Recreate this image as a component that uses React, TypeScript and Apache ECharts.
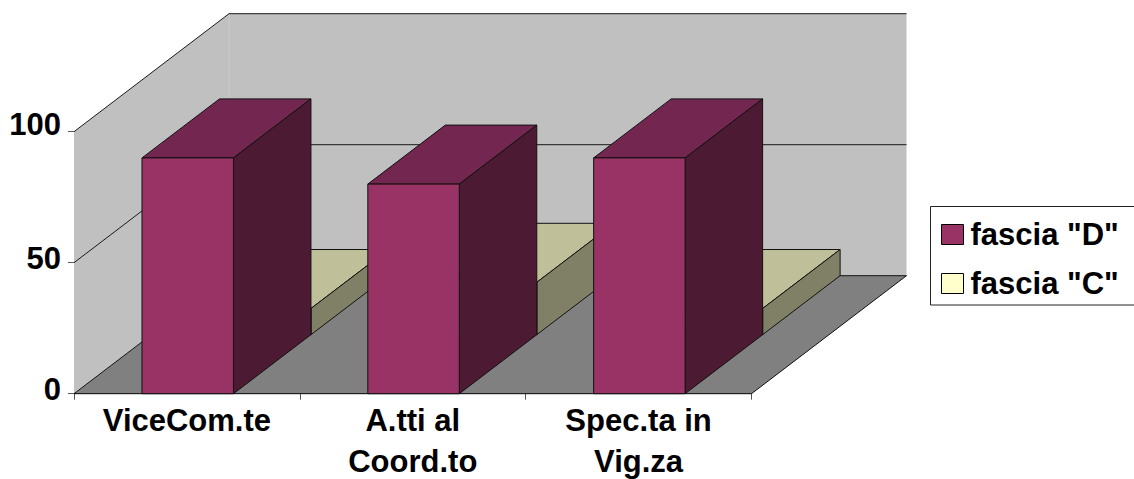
import React, { useEffect, useRef } from "react";
import * as echarts from "echarts";

const categories = ["ViceCom.te", "A.tti al\nCoord.to", "Spec.ta in\nVig.za"];
const fasciaD = [90, 80, 90];
const fasciaC = [10, 20, 10];
const yTicks = [0, 50, 100];
const seriesNames = ['fascia "D"', 'fascia "C"'];

const FONT = '"Liberation Sans", Arial, sans-serif';
const DEPTH_X = 155;
const DEPTH_Y = -118;
const BAR_FRACTION = 0.405;

function shift(p: number[], k: number) {
  return [p[0] + DEPTH_X * k, p[1] + DEPTH_Y * k];
}

function box(api: any, from: number, to: number, front: string, top: string, side: string, stroke: string) {
  const i = api.value(0);
  const hi = api.coord([i, api.value(1)]);
  const lo = api.coord([i, 0]);
  const w = api.size([1, 0])[0] * BAR_FRACTION;
  const xl = hi[0] - w / 2 + 0.8;
  const xr = hi[0] + w / 2 + 0.8;
  const fbl = shift([xl, lo[1]], from);
  const fbr = shift([xr, lo[1]], from);
  const ftl = shift([xl, hi[1]], from);
  const ftr = shift([xr, hi[1]], from);
  const bbr = shift([xr, lo[1]], to);
  const btl = shift([xl, hi[1]], to);
  const btr = shift([xr, hi[1]], to);
  const style = (fill: string) => ({ fill, stroke, lineWidth: 1 });
  return {
    type: "group",
    children: [
      { type: "polygon", shape: { points: [ftl, btl, btr, ftr] }, style: style(top) },
      { type: "polygon", shape: { points: [fbr, ftr, btr, bbr] }, style: style(side) },
      { type: "polygon", shape: { points: [fbl, ftl, ftr, fbr] }, style: style(front) },
    ],
  };
}

function renderWalls(params: any, api: any) {
  if (params.dataIndex !== 0) return { type: "group", children: [] };
  const cs = params.coordSys;
  const x0 = cs.x;
  const x1 = cs.x + cs.width;
  const yAt = (v: number) => api.coord([0, v])[1];
  const f0 = [x0, yAt(0)];
  const f1 = [x1, yAt(0)];
  const top = [x0, yAt(yTicks[yTicks.length - 1])];
  const children: any[] = [
    {
      type: "polygon",
      shape: { points: [top, shift(top, 1), shift(f0, 1), f0] },
      style: { fill: "#C0C0C0", stroke: "none" },
    },
    {
      type: "polygon",
      shape: { points: [shift(top, 1), [x1 + DEPTH_X, top[1] + DEPTH_Y], shift(f1, 1), shift(f0, 1)] },
      style: { fill: "#C0C0C0", stroke: "none" },
    },
    {
      type: "line",
      shape: { x1: x0 + DEPTH_X, y1: top[1] + DEPTH_Y, x2: x0 + DEPTH_X, y2: f0[1] + DEPTH_Y },
      style: { stroke: "#CACACA", lineWidth: 1 },
    },
    {
      type: "polygon",
      shape: { points: [f0, shift(f0, 1), shift(f1, 1), f1] },
      style: { fill: "#808080", stroke: "#111111", lineWidth: 1 },
    },
  ];
  yTicks.slice(1).forEach((v) => {
    const a = [x0, yAt(v)];
    const b = [x1, yAt(v)];
    children.push({
      type: "polyline",
      shape: { points: [a, shift(a, 1), shift(b, 1)] },
      style: { fill: "none", stroke: "#1a1a1a", lineWidth: 1 },
    });
  });
  return { type: "group", children };
}

const labelBase = { fontFamily: FONT, fontSize: 31, fontWeight: "bold" as const, color: "#000000" };

export default function App() {
  const ref = useRef<HTMLDivElement>(null);
  useEffect(() => {
    document.body.style.margin = "0";
    const chart = echarts.init(ref.current!, undefined, { renderer: "svg" });
    chart.setOption({
      animation: false,
      backgroundColor: "#FFFFFF",
      textStyle: { fontFamily: FONT },
      grid: { left: 74, top: 131.7, width: 677.5, height: 262, outerBoundsMode: "none" },
      xAxis: {
        type: "category",
        data: categories,
        boundaryGap: true,
        axisLine: { show: true, lineStyle: { color: "#111111", width: 1 } },
        axisTick: { show: true, length: 6, lineStyle: { color: "#555555", width: 1 } },
        axisLabel: { ...labelBase, lineHeight: 41, margin: 6, interval: 0 },
      },
      yAxis: {
        type: "value",
        min: 0,
        max: 100,
        interval: 50,
        splitLine: { show: false },
        axisLine: { show: true, lineStyle: { color: "#555555", width: 1 } },
        axisTick: { show: true, length: 6, lineStyle: { color: "#555555", width: 1 } },
        axisLabel: {
          ...labelBase,
          margin: 13,
          verticalAlign: "bottom",
          formatter: (v: number) => (v === 100 ? `{a|${v}}` : `{b|${v}}`),
          rich: {
            a: { ...labelBase, lineHeight: 14 },
            b: { ...labelBase, lineHeight: 8 },
          },
        },
      },
      legend: {
        data: seriesNames,
        orient: "vertical",
        left: 941,
        top: 219,
        padding: 0,
        icon: "rect",
        itemWidth: 22,
        itemHeight: 20,
        itemGap: 18,
        selectedMode: false,
        itemStyle: { borderColor: "#000000", borderWidth: 1 },
        textStyle: { ...labelBase, padding: [0, 0, 0, 2] },
      },
      graphic: [
        {
          type: "rect",
          z: -1,
          shape: { x: 930.5, y: 206.5, width: 230, height: 98.5 },
          style: { fill: "#FFFFFF", stroke: "#222222", lineWidth: 1 },
        },
      ],
      series: [
        {
          type: "custom",
          name: "walls",
          silent: true,
          z: 1,
          data: yTicks.map((v, i) => [i, v]),
          encode: { x: 0, y: 1 },
          renderItem: renderWalls,
        },
        {
          type: "custom",
          name: seriesNames[1],
          silent: true,
          z: 2,
          itemStyle: { color: "#FFFFCC" },
          data: fasciaC.map((v, i) => [i, v]),
          encode: { x: 0, y: 1 },
          renderItem: (_p: any, api: any) => box(api, 0.5, 1, "#FFFFCC", "#BFBF99", "#808066", "#111111"),
        },
        {
          type: "custom",
          name: seriesNames[0],
          silent: true,
          z: 3,
          itemStyle: { color: "#993366" },
          data: fasciaD.map((v, i) => [i, v]),
          encode: { x: 0, y: 1 },
          renderItem: (_p: any, api: any) => box(api, 0, 0.5, "#993366", "#732650", "#4D1A33", "#111111"),
        },
      ],
    });
    return () => chart.dispose();
  }, []);
  return <div ref={ref} style={{ width: 1134, height: 479, display: "block" }} />;
}
